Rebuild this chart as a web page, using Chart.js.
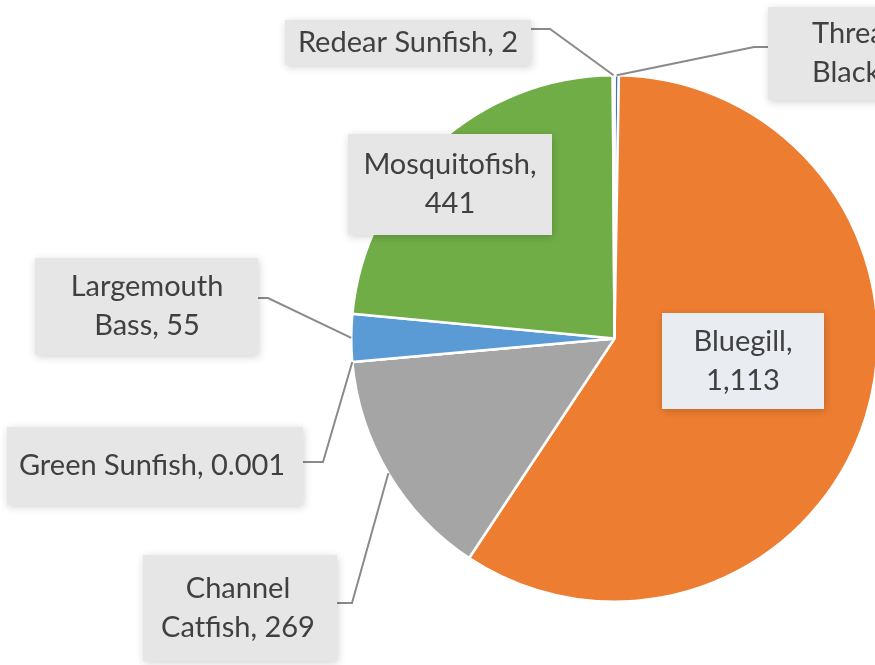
<!DOCTYPE html>
<html>
<head>
<meta charset="utf-8">
<script src="https://cdn.jsdelivr.net/npm/chart.js@4"></script>
<style>
    html, body { margin: 0; padding: 0; background: #ffffff; overflow: hidden; }
    #wrap { position: relative; width: 879px; height: 665px; }
</style>
</head>
<body>
<div id="wrap"><canvas id="pie"></canvas></div>
<script>
// ========================================
// Data
// ========================================
const categories = [
    'Threadfin Shad / Black Crappie',
    'Bluegill',
    'Channel Catfish',
    'Green Sunfish',
    'Largemouth Bass',
    'Mosquitofish',
    'Redear Sunfish'
];
const counts = [5, 1113, 269, 0.001, 55, 441, 2];
const sliceColors = ['#4472C4', '#ED7D31', '#A5A5A5', '#FFC000', '#5B9BD5', '#70AD47', '#FFFFFF'];

// ========================================
// Label boxes (layout only)
// split = number of words on the first line, elbow = leader bend point
// ========================================
const labelBoxes = [
    { x: 768, y: 7,   w: 240, h: 93,  left: 812, split: 3, elbow: [754, 47],  from: [768, 47] },
    { x: 662, y: 313, w: 162, h: 96,  cx: 743, split: 1, fill: '#E9ECF0' },
    { x: 143, y: 555, w: 194, h: 106, cx: 238, split: 1, elbow: [352, 603], from: [337, 603] },
    { x: 7,   y: 427, w: 296, h: 78,  cx: 152, split: 9, elbow: [323, 462], from: [303, 462] },
    { x: 35,  y: 258, w: 223, h: 97,  cx: 147, split: 1, elbow: [268, 298], from: [258, 298] },
    { x: 348, y: 134, w: 204, h: 101, cx: 450, split: 1 },
    { x: 285, y: 20,  w: 246, h: 45,  cx: 408, split: 9, elbow: [550, 29],  from: [531, 29] }
];

const FONT_SIZE = 29;
const LINE_GAP = 39;

function formatValue(v) {
    return v.toLocaleString('en-US', { maximumFractionDigits: 3 });
}

function labelLines(i) {
    const words = `${categories[i]}, ${formatValue(counts[i])}`.split(' ');
    const n = labelBoxes[i].split;
    const first = words.slice(0, n).join(' ');
    const rest = words.slice(n).join(' ');
    return rest ? [first, rest] : [first];
}

// ========================================
// Callout plugin: boxes, leader lines, text
// ========================================
const calloutPlugin = {
    id: 'callouts',
    afterDatasetsDraw(chart) {
        const ctx = chart.ctx;
        const arcs = chart.getDatasetMeta(0).data;
        ctx.save();

        // leader lines
        ctx.strokeStyle = '#8A8A8A';
        ctx.lineWidth = 2;
        labelBoxes.forEach((b, i) => {
            if (!b.elbow) return;
            const arc = arcs[i];
            const mid = (arc.startAngle + arc.endAngle) / 2;
            const ex = arc.x + Math.cos(mid) * arc.outerRadius;
            const ey = arc.y + Math.sin(mid) * arc.outerRadius;
            ctx.beginPath();
            ctx.moveTo(b.from[0], b.from[1]);
            ctx.lineTo(b.elbow[0], b.elbow[1]);
            ctx.lineTo(ex, ey);
            ctx.stroke();
        });

        // boxes
        labelBoxes.forEach(b => {
            ctx.save();
            ctx.shadowColor = 'rgba(0, 0, 0, 0.18)';
            ctx.shadowBlur = 8;
            ctx.shadowOffsetX = 1;
            ctx.shadowOffsetY = 2;
            ctx.fillStyle = b.fill || '#E6E6E6';
            ctx.fillRect(b.x, b.y, b.w, b.h);
            ctx.restore();
        });

        // text
        ctx.fillStyle = '#404040';
        ctx.font = `${FONT_SIZE}px Lato, "Open Sans", sans-serif`;
        ctx.textBaseline = 'middle';
        labelBoxes.forEach((b, i) => {
            const lines = labelLines(i);
            const midY = b.y + b.h / 2;
            const top = midY - (lines.length - 1) * LINE_GAP / 2;
            ctx.textAlign = b.left ? 'left' : 'center';
            const tx = b.left ? b.left : b.cx;
            lines.forEach((line, k) => ctx.fillText(line, tx, top + k * LINE_GAP));
        });

        ctx.restore();
    }
};

// ========================================
// Chart
// ========================================
new Chart(document.getElementById('pie').getContext('2d'), {
    type: 'pie',
    data: {
        labels: categories,
        datasets: [{
            data: counts,
            backgroundColor: sliceColors,
            borderColor: '#FFFFFF',
            borderWidth: 2.5
        }]
    },
    options: {
        responsive: true,
        maintainAspectRatio: false,
        animation: false,
        layout: { padding: { left: 350, top: 74, bottom: 62, right: 0 } },
        plugins: {
            legend: { display: false },
            tooltip: { enabled: false }
        }
    },
    plugins: [calloutPlugin]
});
</script>
</body>
</html>
